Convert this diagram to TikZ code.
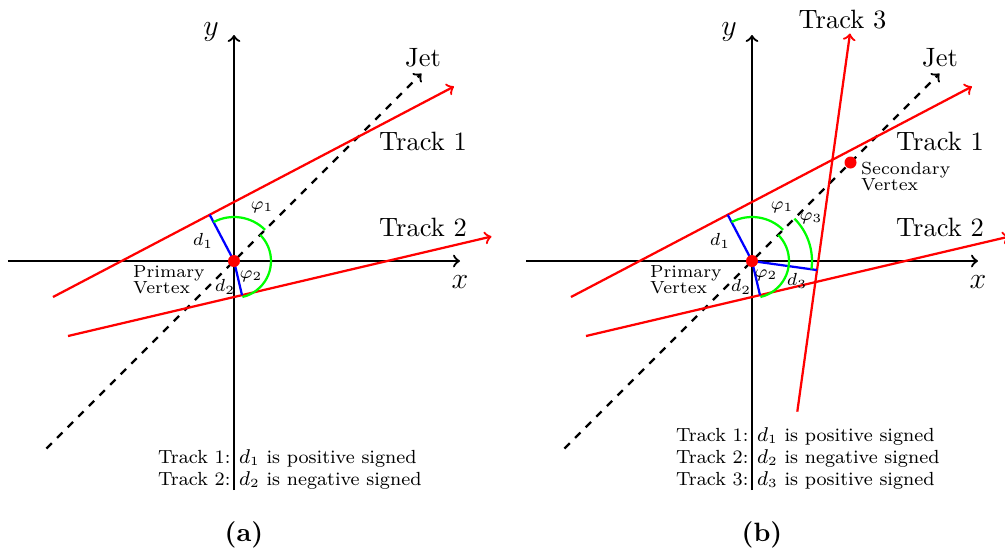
\documentclass[tikz,border=0pt]{standalone}
\usepackage{tikz}
\usetikzlibrary{calc}

\begin{document}
\begin{tikzpicture}[
  x=20pt, y=20pt,
  line width=0.9pt,
  axis/.style={->},
  track/.style={red, ->},
  jetline/.style={dashed, ->},
  ipline/.style={blue},
  angarc/.style={green},
  vtx/.style={circle, fill=red, inner sep=0pt, minimum size=4.8pt},
  lbl/.style={font=\scriptsize, inner sep=0pt},
  vlbl/.style={font={\scriptsize\linespread{0.8}\selectfont}, align=left,
               anchor=west, inner sep=0pt},
  trklbl/.style={font=\fontsize{10.6}{12}\selectfont, inner sep=0pt},
  axlbl/.style={font=\fontsize{12.7}{14}\selectfont, inner sep=0pt},
  note/.style={font=\fontsize{7.6}{9}\selectfont, inner sep=0pt}]

  \useasboundingbox (-4.68,-5.82) rectangle (15.42,5.22);

  % panel (a)
  \coordinate (xa0) at (-4.52,0);  \coordinate (xa1) at (4.52,0);
  \coordinate (ya0) at (0,-4.58);  \coordinate (ya1) at (0,4.52);
  \coordinate (ja0) at (-3.75,-3.75); \coordinate (ja1) at (3.75,3.75);
  \coordinate (t1a0) at (-3.62,-0.72); \coordinate (t1a1) at (4.4,3.49);
  \coordinate (t2a0) at (-3.32,-1.5);  \coordinate (t2a1) at (5.15,0.49);
  \coordinate (oa) at (0,0);
  \coordinate (f1a) at ($(t1a0)!(oa)!(t1a1)$);
  \coordinate (f2a) at ($(t2a0)!(oa)!(t2a1)$);

  \draw[axis] (xa0) -- (xa1);
  \draw[axis] (ya0) -- (ya1);
  \draw[jetline] (ja0) -- (ja1);
  \draw[track] (t1a0) -- (t1a1);
  \draw[track] (t2a0) -- (t2a1);
  \draw[ipline] (oa) -- (f1a);
  \draw[ipline] (oa) -- (f2a);
  \draw[angarc] ($(oa)+(117.7:0.88)$) arc[start angle=117.7, end angle=45,
    radius=0.88];
  \draw[angarc] ($(oa)+(45:0.74)$) arc[start angle=45, end angle=-76.8,
    radius=0.74];
  \node[vtx] (pva) at (oa) {};

  \node[axlbl] (xlbla) at (4.52,-0.42) {$x$};
  \node[axlbl] (ylbla) at (-0.46,4.58) {$y$};
  \node[trklbl] (jeta) at (3.78,4.06) {Jet};
  \node[trklbl] (trk1a) at (3.78,2.4) {Track 1};
  \node[trklbl] (trk2a) at (3.78,0.68) {Track 2};
  \node[lbl] (phi1a) at (0.56,1.08) {$\varphi_1$};
  \node[lbl] (phi2a) at (0.34,-0.3) {$\varphi_2$};
  \node[lbl] (d1a) at (-0.62,0.4) {$d_1$};
  \node[lbl] (d2a) at (-0.18,-0.52) {$d_2$};
  \node[vlbl] (pvlbla) at (-2.04,-0.38) {Primary\\Vertex};

  \node[note, anchor=base east] (k1a) at (-0.05,-4.04) {Track 1:};
  \node[note, anchor=base west] (s1a) at (0.08,-4.04)
    {$d_1$ is positive signed};
  \node[note, anchor=base east] (k2a) at (-0.05,-4.48) {Track 2:};
  \node[note, anchor=base west] (s2a) at (0.08,-4.48)
    {$d_2$ is negative signed};
  \node[trklbl, font=\fontsize{10.6}{12}\selectfont\bfseries] (capa)
    at (0.2,-5.48) {(a)};

  % panel (b)
  \begin{scope}[xshift=207.2pt]
    \coordinate (xb0) at (-4.52,0);  \coordinate (xb1) at (4.52,0);
    \coordinate (yb0) at (0,-4.58);  \coordinate (yb1) at (0,4.52);
    \coordinate (jb0) at (-3.75,-3.75); \coordinate (jb1) at (3.75,3.75);
    \coordinate (t1b0) at (-3.62,-0.72); \coordinate (t1b1) at (4.4,3.49);
    \coordinate (t2b0) at (-3.32,-1.5);  \coordinate (t2b1) at (5.15,0.49);
    \coordinate (t3b0) at (0.906,-3.013); \coordinate (t3b1) at (1.96,4.55);
    \coordinate (ob) at (0,0);
    \coordinate (f1b) at ($(t1b0)!(ob)!(t1b1)$);
    \coordinate (f2b) at ($(t2b0)!(ob)!(t2b1)$);
    \coordinate (f3b) at ($(t3b0)!(ob)!(t3b1)$);

    \draw[axis] (xb0) -- (xb1);
    \draw[axis] (yb0) -- (yb1);
    \draw[jetline] (jb0) -- (jb1);
    \draw[track] (t1b0) -- (t1b1);
    \draw[track] (t2b0) -- (t2b1);
    \draw[track] (t3b0) -- (t3b1);
    \draw[ipline] (ob) -- (f1b);
    \draw[ipline] (ob) -- (f2b);
    \draw[ipline] (ob) -- (f3b);
    \draw[angarc] ($(ob)+(117.7:0.88)$) arc[start angle=117.7, end angle=45,
      radius=0.88];
    \draw[angarc] ($(ob)+(45:0.74)$) arc[start angle=45, end angle=-76.8,
      radius=0.74];
    \draw[angarc] ($(ob)+(45:1.2)$) arc[start angle=45, end angle=-7.9,
      radius=1.2];
    \node[vtx] (pvb) at (ob) {};
    \node[vtx] (svb) at (1.97,1.97) {};

    \node[axlbl] (xlblb) at (4.52,-0.42) {$x$};
    \node[axlbl] (ylblb) at (-0.46,4.58) {$y$};
    \node[trklbl] (jetb) at (3.76,4.06) {Jet};
    \node[trklbl] (trk1b) at (3.76,2.4) {Track 1};
    \node[trklbl] (trk2b) at (3.76,0.68) {Track 2};
    \node[trklbl] (trk3b) at (1.81,4.82) {Track 3};
    \node[lbl] (phi1b) at (0.6,1.08) {$\varphi_1$};
    \node[lbl] (phi2b) at (0.28,-0.28) {$\varphi_2$};
    \node[lbl] (phi3b) at (1.18,0.86) {$\varphi_3$};
    \node[lbl] (d1b) at (-0.64,0.4) {$d_1$};
    \node[lbl] (d2b) at (-0.22,-0.52) {$d_2$};
    \node[lbl] (d3b) at (0.9,-0.4) {$d_3$};
    \node[vlbl] (pvlblb) at (-2.06,-0.38) {Primary\\Vertex};
    \node[vlbl] (svlblb) at (2.16,1.68) {Secondary\\Vertex};

    \node[note, anchor=base east] (k1b) at (-0.05,-3.6) {Track 1:};
    \node[note, anchor=base west] (s1b) at (0.08,-3.6)
      {$d_1$ is positive signed};
    \node[note, anchor=base east] (k2b) at (-0.05,-4.04) {Track 2:};
    \node[note, anchor=base west] (s2b) at (0.08,-4.04)
      {$d_2$ is negative signed};
    \node[note, anchor=base east] (k3b) at (-0.05,-4.48) {Track 3:};
    \node[note, anchor=base west] (s3b) at (0.08,-4.48)
      {$d_3$ is positive signed};
    \node[trklbl, font=\fontsize{10.6}{12}\selectfont\bfseries] (capb)
      at (0.2,-5.48) {(b)};
  \end{scope}
\end{tikzpicture}
\end{document}
